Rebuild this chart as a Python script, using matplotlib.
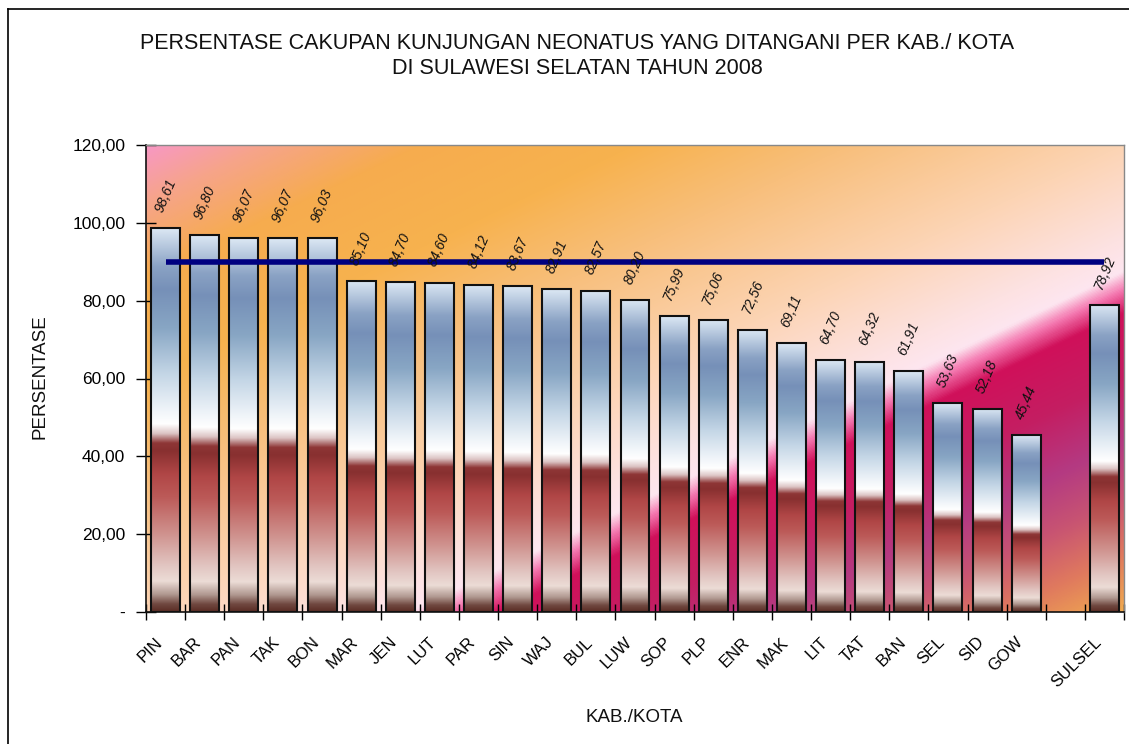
import numpy as np
import matplotlib
matplotlib.use("Agg")
import matplotlib.pyplot as plt
from matplotlib.colors import LinearSegmentedColormap
from matplotlib.transforms import ScaledTranslation

# ---------------- data ----------------
categories = ["PIN", "BAR", "PAN", "TAK", "BON", "MAR", "JEN", "LUT", "PAR", "SIN",
              "WAJ", "BUL", "LUW", "SOP", "PLP", "ENR", "MAK", "LIT", "TAT", "BAN",
              "SEL", "SID", "GOW", "", "SULSEL"]
values = [98.61, 96.80, 96.07, 96.07, 96.03, 85.10, 84.70, 84.60, 84.12, 83.67,
          82.91, 82.57, 80.20, 75.99, 75.06, 72.56, 69.11, 64.70, 64.32, 61.91,
          53.63, 52.18, 45.44, np.nan, 78.92]
target = 90.0
y_ticks = [0, 20, 40, 60, 80, 100, 120]

title = "PERSENTASE CAKUPAN KUNJUNGAN NEONATUS YANG DITANGANI PER KAB./ KOTA\nDI SULAWESI SELATAN TAHUN 2008"
ylabel = "PERSENTASE"
xlabel = "KAB./KOTA"

# ---------------- style ----------------
plt.rcParams['font.family'] = ['Liberation Sans', 'DejaVu Sans']

W, H = 1129, 744
fig = plt.figure(figsize=(W / 100, H / 100), dpi=100)
ax = fig.add_axes([146 / W, 1 - 612 / H, (1124 - 146) / W, (612 - 145) / H])

# background gradient (diagonal, top-left -> bottom-right)
bg_stops = [
    (0.00, "#f898c4"),
    (0.06, "#f6a48a"),
    (0.14, "#f6ac4e"),
    (0.25, "#f7b24e"),
    (0.36, "#f8bf7c"),
    (0.50, "#fcd4b4"),
    (0.60, "#fde2e2"),
    (0.635, "#fde6f0"),
    (0.655, "#f478b0"),
    (0.68, "#d0105a"),
    (0.75, "#c41e62"),
    (0.82, "#b43a82"),
    (0.88, "#c85472"),
    (0.94, "#e07a5e"),
    (1.00, "#f0aa50"),
]
bg_cmap = LinearSegmentedColormap.from_list("bg", bg_stops, N=512)
uu, vv = np.meshgrid(np.linspace(0, 1, 800), np.linspace(0, 1, 400))
tt = (uu + (1 - vv)) / 2
ax.imshow(tt, cmap=bg_cmap, vmin=0, vmax=1, extent=[0, 1, 0, 1], origin='lower',
          transform=ax.transAxes, aspect='auto', zorder=0, interpolation='bilinear')

# bar gradient
bar_stops = [
    (0.00, "#5a2c24"),
    (0.02, "#704840"),
    (0.045, "#b09890"),
    (0.08, "#ecdcd6"),
    (0.12, "#e2c6c2"),
    (0.20, "#d09490"),
    (0.30, "#bc5a58"),
    (0.36, "#b04646"),
    (0.42, "#883030"),
    (0.44, "#8e3636"),
    (0.465, "#dcc4c4"),
    (0.49, "#ffffff"),
    (0.52, "#f2f6fa"),
    (0.62, "#c4d6e6"),
    (0.74, "#88a6c4"),
    (0.84, "#7690b8"),
    (0.90, "#8aa2c4"),
    (1.00, "#dce8f4"),
]
bar_cmap = LinearSegmentedColormap.from_list("bar", bar_stops, N=512)
grad = np.linspace(0, 1, 512).reshape(-1, 1)

x = np.arange(len(categories))
bars = ax.bar(x, values, width=0.74, facecolor='none', edgecolor='#111111',
              linewidth=1.5, zorder=3)
for b in bars:
    h = b.get_height()
    if not np.isfinite(h):
        continue
    ax.imshow(grad, cmap=bar_cmap, vmin=0, vmax=1, origin='lower', aspect='auto',
              extent=[b.get_x(), b.get_x() + b.get_width(), 0, h], zorder=2,
              interpolation='bilinear')

# target line
ax.hlines(target, x[0], x[-1], colors='#000080', linewidth=4, zorder=4)

# value labels
for xi, v in zip(x, values):
    if not np.isfinite(v):
        continue
    ax.annotate(f"{v:.2f}".replace('.', ','), (xi, v), xytext=(0, 10),
                textcoords='offset points', rotation=67, ha='center', va='bottom',
                fontsize=10, fontstyle='italic', color='#111111', zorder=5)

# axes
ax.set_xlim(-0.5, len(categories) - 0.5)
ax.set_ylim(0, 120)
ax.set_yticks(y_ticks)
ax.set_yticklabels(["-" if t == 0 else f"{t:.2f}".replace('.', ',') for t in y_ticks],
                   fontsize=12.5)
ax.tick_params(axis='y', direction='inout', length=14, width=1, pad=8)

ax.set_xticks(np.arange(len(categories) + 1) - 0.5)
ax.set_xticklabels([])
ax.tick_params(axis='x', which='major', direction='inout', length=12, width=1)
ax.set_xticks(x, minor=True)
ax.set_xticklabels(categories, minor=True, rotation=45, ha='right', va='center',
                   rotation_mode='anchor', fontsize=12)
ax.tick_params(axis='x', which='minor', length=0, pad=20)
for lbl in ax.get_xticklabels(minor=True):
    lbl.set_transform(lbl.get_transform() + ScaledTranslation(-4 / 72, 0, fig.dpi_scale_trans))

for s in ['top', 'right']:
    ax.spines[s].set_color('#888888')
    ax.spines[s].set_linewidth(1)
for s in ['left', 'bottom']:
    ax.spines[s].set_color('#111111')
    ax.spines[s].set_linewidth(1.2)

# texts
fig.text(577 / W, 1 - 33 / H, title, ha='center', va='top', fontsize=15.5,
         linespacing=1.25, color='#111111')
fig.text(40 / W, 1 - 377 / H, ylabel, rotation=90, ha='center', va='center',
         fontsize=13.5, color='#111111')
fig.text(634 / W, 1 - 717 / H, xlabel, ha='center', va='center', fontsize=13.5,
         color='#111111')

# outer chart frame (left and top edges visible)
fig.add_artist(plt.Line2D([8 / W, 8 / W], [0, 1 - 9 / H], transform=fig.transFigure,
                          color='black', linewidth=1.2))
fig.add_artist(plt.Line2D([8 / W, 1], [1 - 9 / H, 1 - 9 / H], transform=fig.transFigure,
                          color='black', linewidth=1.2))

fig.savefig("out.png", dpi=100)
